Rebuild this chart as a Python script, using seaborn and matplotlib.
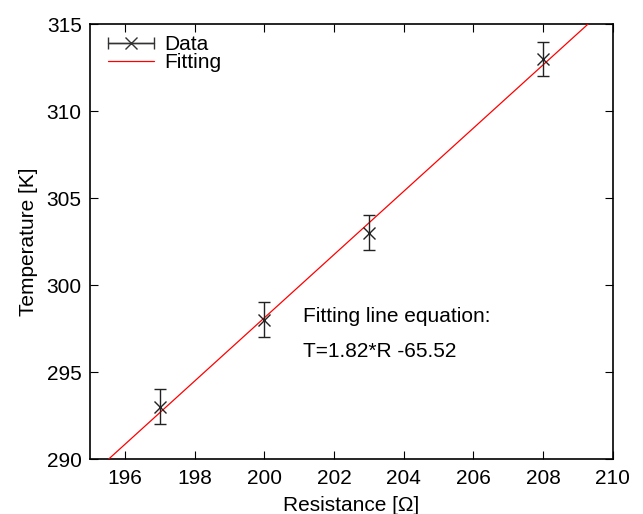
import numpy as np
import pandas as pd
import seaborn as sns
import matplotlib
matplotlib.use('Agg')
import matplotlib.pyplot as plt
from matplotlib.container import ErrorbarContainer
from matplotlib.lines import Line2D
from matplotlib.collections import LineCollection
from matplotlib.legend_handler import HandlerErrorbar

# measured data
resistance = [197, 200, 203, 208]
temperature = [293, 298, 303, 313]
temp_err = [1, 1, 1, 1]

x_range = [195, 210]
y_range = [290, 315]
x_ticks = [196, 198, 200, 202, 204, 206, 208, 210]
y_ticks = [290, 295, 300, 305, 310, 315]

sns.set_style('ticks')
plt.rcParams['font.family'] = ['Liberation Sans', 'DejaVu Sans']
plt.rcParams['font.size'] = 15
for k in ['text.color', 'axes.labelcolor', 'xtick.color', 'ytick.color']:
    plt.rcParams[k] = 'black'
plt.rcParams['xtick.direction'] = 'in'
plt.rcParams['ytick.direction'] = 'in'
plt.rcParams['xtick.top'] = True
plt.rcParams['ytick.right'] = True
plt.rcParams['xtick.major.size'] = 6
plt.rcParams['ytick.major.size'] = 6
plt.rcParams['xtick.major.pad'] = 7
plt.rcParams['ytick.major.pad'] = 6

df = pd.DataFrame({'R': resistance, 'T': temperature, 'err': temp_err})

# least squares fit (T = a*R + b)
a, b = np.polyfit(df['R'], df['T'], 1)
fit = pd.DataFrame({'R': x_range})
fit['T'] = a * fit['R'] + b

fig = plt.figure(figsize=(6.43, 5.14), dpi=100)
ax = fig.add_axes([0.14, 0.107, 0.813, 0.846])

ax.errorbar(df['R'], df['T'], yerr=df['err'], fmt='x', color='#222222',
            markersize=8, capsize=4, elinewidth=1, capthick=1, mew=1, zorder=5)
sns.lineplot(data=fit, x='R', y='T', color='red', linewidth=0.9, ax=ax, zorder=4)

# legend proxies, gnuplot style (horizontal bar with caps)
data_line = Line2D([], [], marker='x', color='#333333', linestyle='-', linewidth=1,
                   markersize=8, mew=1)
data_cap = Line2D([], [], marker='|', color='#333333', linestyle='none',
                  markersize=8, mew=1)
data_bar = LineCollection([], colors='#333333', linewidths=1)
data_proxy = ErrorbarContainer((data_line, (data_cap,), (data_bar,)),
                               has_xerr=True, has_yerr=False, label='Data')
fit_proxy = Line2D([], [], color='red', linewidth=0.9, label='Fitting')
ax.legend(handles=[data_proxy, fit_proxy], labels=['Data', 'Fitting'],
          handler_map={ErrorbarContainer: HandlerErrorbar(xerr_size=1.1)},
          loc='upper left', bbox_to_anchor=(0.0143, 1.0), frameon=False,
          handlelength=2.2, handletextpad=0.5,
          borderaxespad=0.12, labelspacing=-0.05, fontsize=15)

ax.text(201.1, 298.2, 'Fitting line equation:', va='center', fontsize=15)
ax.text(201.1, 296.2, 'T=1.82*R -65.52', va='center', fontsize=15)

ax.set_xlim(x_range)
ax.set_ylim(y_range)
ax.set_xticks(x_ticks)
ax.set_yticks(y_ticks)
ax.set_xlabel('Resistance [Ω]', labelpad=6)
ax.set_ylabel('Temperature [K]', labelpad=6)
for s in ax.spines.values():
    s.set_linewidth(1.2)
    s.set_color('black')

fig.savefig('out.png', dpi=100)
